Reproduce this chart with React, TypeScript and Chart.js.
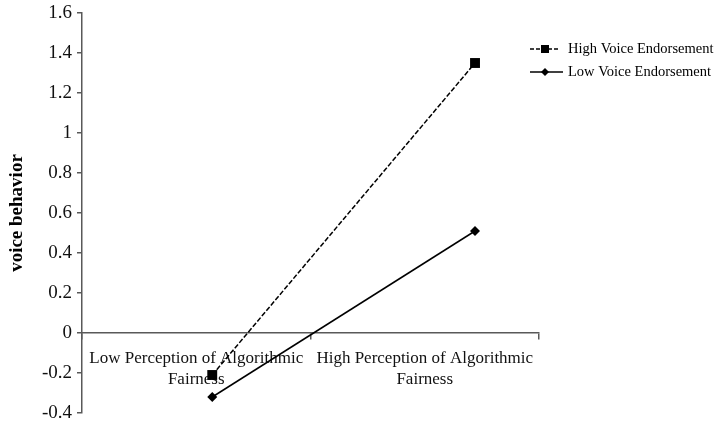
import React, { useEffect, useRef } from "react";
import { Chart, registerables } from "chart.js";

Chart.register(...registerables);

const categories: string[][] = [
  ["Low Perception of Algorithmic", "Fairness"],
  ["High Perception of Algorithmic", "Fairness"],
];
const pointPositions = [0.57, 1.72];
const highEndorsement = [-0.21, 1.35];
const lowEndorsement = [-0.32, 0.51];
const seriesNames = ["High Voice Endorsement", "Low Voice Endorsement"];
const yTicksMin = -0.4;
const yTicksMax = 1.6;
const yStep = 0.2;

const FONT = "'Liberation Serif', 'Times New Roman', serif";
const AXIS_COLOR = "#595959";

const legendPlugin = {
  id: "customLegend",
  afterDraw(chart: any) {
    const ctx = chart.ctx;
    ctx.save();
    const items = [
      { name: seriesNames[0], dash: [4, 2], style: "rect", x1: 559 },
      { name: seriesNames[1], dash: [], style: "diamond", x1: 563 },
    ];
    const x0 = 530;
    const mx = 545;
    items.forEach((it, i) => {
      const y = 49 + i * 23;
      ctx.strokeStyle = "#000";
      ctx.lineWidth = 1.5;
      ctx.setLineDash(it.dash);
      ctx.beginPath();
      ctx.moveTo(x0, y);
      ctx.lineTo(it.x1, y);
      ctx.stroke();
      ctx.setLineDash([]);
      ctx.fillStyle = "#000";
      if (it.style === "rect") {
        ctx.fillRect(mx - 4, y - 4, 8, 8);
      } else {
        ctx.beginPath();
        ctx.moveTo(mx, y - 4);
        ctx.lineTo(mx + 4, y);
        ctx.lineTo(mx, y + 4);
        ctx.lineTo(mx - 4, y);
        ctx.closePath();
        ctx.fill();
      }
      ctx.font = `14.5px ${FONT}`;
      ctx.textBaseline = "middle";
      ctx.textAlign = "left";
      ctx.fillText(it.name, 568, y);
    });
    ctx.restore();
  },
};

export default function App() {
  const ref = useRef<HTMLCanvasElement>(null);
  useEffect(() => {
    if (!ref.current) return;
    const chart = new Chart(ref.current, {
      type: "line",
      data: {
        labels: categories as any,
        datasets: [
          {
            label: seriesNames[0],
            data: pointPositions.map((x, i) => ({ x, y: highEndorsement[i] })),
            xAxisID: "xl",
            borderColor: "#000",
            backgroundColor: "#000",
            borderWidth: 1.5,
            borderDash: [5, 2],
            pointStyle: "rect",
            pointRadius: 7,
            pointBorderWidth: 0,
            fill: false,
          },
          {
            label: seriesNames[1],
            data: pointPositions.map((x, i) => ({ x, y: lowEndorsement[i] })),
            xAxisID: "xl",
            borderColor: "#000",
            backgroundColor: "#000",
            borderWidth: 1.5,
            pointStyle: "rectRot",
            pointRadius: 5,
            pointBorderWidth: 0,
            fill: false,
          },
        ],
      },
      options: {
        animation: false,
        responsive: false,
        maintainAspectRatio: false,
        layout: { padding: { left: 0, top: 13, right: 181, bottom: 13 } },
        plugins: {
          legend: { display: false },
          tooltip: { enabled: false },
        },
        scales: {
          xl: {
            type: "linear",
            min: 0,
            max: 2,
            display: false,
          },
          x: {
            type: "category",
            position: { y: 0 } as any,
            offset: true,
            grid: {
              offset: true,
              drawOnChartArea: false,
              drawTicks: true,
              tickLength: 6,
              color: AXIS_COLOR,
              lineWidth: 1.5,
            },
            border: { display: true, color: AXIS_COLOR, width: 1.5 },
            ticks: {
              autoSkip: false,
              maxRotation: 0,
              minRotation: 0,
              padding: 9,
              color: "#111",
              font: { family: FONT, size: 17, lineHeight: 1.25 },
            },
          },
          y: {
            type: "linear",
            min: yTicksMin,
            max: yTicksMax,
            afterFit: (s: any) => {
              s.width = 82;
              s.paddingTop = 0;
              s.paddingBottom = 0;
            },
            ticks: {
              stepSize: yStep,
              padding: 5,
              color: "#111",
              font: { family: FONT, size: 19 },
              callback: (v: any) => String(Math.round(Number(v) * 10) / 10),
            },
            grid: {
              drawOnChartArea: false,
              drawTicks: true,
              tickLength: 5,
              color: AXIS_COLOR,
              lineWidth: 1.5,
            },
            border: { display: true, color: AXIS_COLOR, width: 1.5 },
            title: {
              display: true,
              text: "voice behavior",
              color: "#000",
              font: { family: FONT, size: 19, weight: "bold" },
              padding: { top: 6, bottom: 0 },
            },
          },
        },
      },
      plugins: [legendPlugin],
    });
    return () => chart.destroy();
  }, []);
  return (
    <div style={{ position: "fixed", left: 0, top: 0, width: 720, height: 426, background: "#fff" }}>
      <canvas ref={ref} width={720} height={426} style={{ width: 720, height: 426 }} />
    </div>
  );
}
